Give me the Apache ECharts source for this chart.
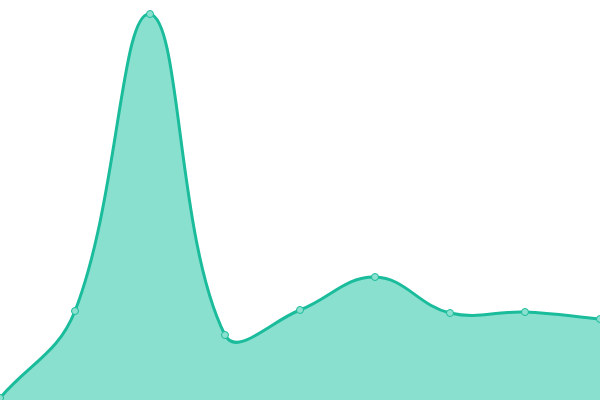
<!DOCTYPE html>
<html><head><meta charset="utf-8">
<script src="https://cdn.jsdelivr.net/npm/echarts@6/dist/echarts.min.js"></script>
<style>html,body{margin:0;padding:0;background:#fff}#c{width:600px;height:400px}</style>
</head><body><div id="c"></div>
<script>
const categories = ['1','2','3','4','5','6','7','8','9'];
const values = [2, 89, 386, 65, 90, 123, 87, 88, 81];
const TENSION = 0.4;
const LINE_COLOR = '#1abc9c';
const AREA_COLOR = '#8ae0cf';

function renderCurve(params, api) {
  if (params.dataIndex !== 0) return null;
  const pts = values.map((v, i) => api.coord([i, v]));
  const base = api.coord([0, 0])[1];
  const cs = params.coordSys;
  const clamp = (p) => [
    Math.min(Math.max(p[0], cs.x), cs.x + cs.width),
    Math.min(Math.max(p[1], cs.y), cs.y + cs.height)
  ];
  const n = pts.length;
  const prevCp = [], nextCp = [];
  for (let i = 0; i < n; i++) {
    const cur = pts[i];
    const prev = pts[i - 1] || cur;
    const next = pts[i + 1] || cur;
    const d01 = Math.hypot(cur[0] - prev[0], cur[1] - prev[1]);
    const d12 = Math.hypot(next[0] - cur[0], next[1] - cur[1]);
    const sum = d01 + d12;
    const fa = sum ? TENSION * d01 / sum : 0;
    const fb = sum ? TENSION * d12 / sum : 0;
    const dx = next[0] - prev[0], dy = next[1] - prev[1];
    prevCp.push(clamp([cur[0] - fa * dx, cur[1] - fa * dy]));
    nextCp.push(clamp([cur[0] + fb * dx, cur[1] + fb * dy]));
  }
  let d = 'M' + pts[0][0] + ' ' + pts[0][1];
  for (let i = 0; i < n - 1; i++) {
    d += ' C' + nextCp[i][0] + ' ' + nextCp[i][1] + ' ' +
      prevCp[i + 1][0] + ' ' + prevCp[i + 1][1] + ' ' +
      pts[i + 1][0] + ' ' + pts[i + 1][1];
  }
  const area = d + ' L' + pts[n - 1][0] + ' ' + base + ' L' + pts[0][0] + ' ' + base + ' Z';
  return {
    type: 'group',
    children: [
      {type: 'path', shape: {pathData: area}, style: {fill: AREA_COLOR, stroke: null}},
      {type: 'path', shape: {pathData: d}, style: {fill: null, stroke: LINE_COLOR, lineWidth: 3}}
    ]
  };
}

const chart = echarts.init(document.getElementById('c'));
chart.setOption({
  animation: false,
  grid: {left: 0, right: 0, top: 0, bottom: 0},
  xAxis: {type: 'category', data: categories, boundaryGap: false, show: false},
  yAxis: {type: 'value', min: 0, max: 400, show: false},
  series: [{
    type: 'custom',
    data: values.map((v, i) => [i, v]),
    encode: {x: 0, y: 1},
    renderItem: renderCurve,
    silent: true,
    z: 1
  }, {
    type: 'line',
    data: values,
    symbol: 'circle',
    symbolSize: 7,
    lineStyle: {width: 0, opacity: 0},
    itemStyle: {color: '#8ce0cf', borderColor: '#1abc9c', borderWidth: 1},
    silent: true,
    z: 2
  }]
});
</script></body></html>
